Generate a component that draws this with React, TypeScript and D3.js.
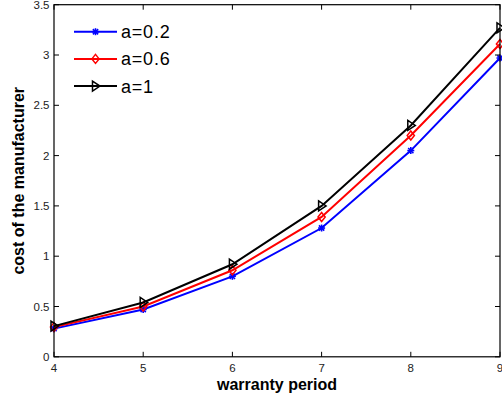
import React from "react";
import * as d3 from "d3";

const periods = [4, 5, 6, 7, 8, 9];
const seriesNames = ["a=0.2", "a=0.6", "a=1"];
const costA02 = [0.28, 0.47, 0.8, 1.28, 2.05, 2.97];
const costA06 = [0.295, 0.5, 0.86, 1.39, 2.2, 3.11];
const costA1 = [0.305, 0.54, 0.92, 1.5, 2.3, 3.27];
const xTicks = [4, 5, 6, 7, 8, 9];
const yTicks = [0, 0.5, 1, 1.5, 2, 2.5, 3, 3.5];
const colors = ["#0000ff", "#ff0000", "#000000"];
const markers = ["star", "diamond", "triangle"];

const W = 502, H = 402;
const L = 54, R = 500, T = 4.7, B = 356.8;

function Marker({ type, x, y, color }: { type: string; x: number; y: number; color: string }) {
  if (type === "star") {
    const r = 3.5;
    return (
      <g stroke={color} strokeWidth={1.6}>
        <line x1={x - r} y1={y} x2={x + r} y2={y} />
        <line x1={x} y1={y - r} x2={x} y2={y + r} />
        <line x1={x - r * 0.75} y1={y - r * 0.75} x2={x + r * 0.75} y2={y + r * 0.75} />
        <line x1={x - r * 0.75} y1={y + r * 0.75} x2={x + r * 0.75} y2={y - r * 0.75} />
      </g>
    );
  }
  if (type === "diamond") {
    const r = 4.5;
    return (
      <path
        d={`M${x},${y - r}L${x + r * 0.8},${y}L${x},${y + r}L${x - r * 0.8},${y}Z`}
        fill="none"
        stroke={color}
        strokeWidth={1.5}
      />
    );
  }
  const r = 5;
  return (
    <path
      d={`M${x - r * 0.6},${y - r}L${x + r * 0.9},${y}L${x - r * 0.6},${y + r}Z`}
      fill="none"
      stroke={color}
      strokeWidth={1.5}
    />
  );
}

export default function App() {
  const x = d3.scaleLinear().domain([4, 9]).range([L, R]);
  const y = d3.scaleLinear().domain([0, 3.5]).range([B, T]);
  const data = [costA02, costA06, costA1];
  const line = d3
    .line<number>()
    .x((_, i) => x(periods[i]))
    .y((d) => y(d));
  const font = "'Liberation Sans', Arial, Helvetica, sans-serif";
  const tl = 5;
  return (
    <svg
      width={W}
      height={H}
      style={{ position: "absolute", left: 0, top: 0, background: "#fff" }}
      fontFamily={font}
    >
      <rect x={0} y={0} width={W} height={H} fill="#fff" />
      {data.map((s, k) => (
        <g key={k}>
          <path d={line(s) || ""} fill="none" stroke={colors[k]} strokeWidth={2} />
          {s.map((v, i) => (
            <Marker key={i} type={markers[k]} x={x(periods[i])} y={y(v)} color={colors[k]} />
          ))}
        </g>
      ))}
      <rect x={L} y={T} width={R - L} height={B - T} fill="none" stroke="#000" strokeWidth={1.2} />
      {xTicks.map((t) => (
        <g key={"x" + t}>
          <line x1={x(t)} x2={x(t)} y1={B} y2={B - tl} stroke="#000" />
          <line x1={x(t)} x2={x(t)} y1={T} y2={T + tl} stroke="#000" />
          <text x={x(t)} y={372} fontSize={11.5} textAnchor="middle" fill="#222">
            {t}
          </text>
        </g>
      ))}
      {yTicks.map((t) => (
        <g key={"y" + t}>
          <line x1={L} x2={L + tl} y1={y(t)} y2={y(t)} stroke="#000" />
          <line x1={R} x2={R - tl} y1={y(t)} y2={y(t)} stroke="#000" />
          <text x={49.5} y={y(t) + 4} fontSize={11.5} textAnchor="end" fill="#222">
            {t}
          </text>
        </g>
      ))}
      <text x={(L + R) / 2} y={390} fontSize={16} fontWeight="bold" textAnchor="middle" fill="#000">
        warranty period
      </text>
      <text
        transform={`translate(23.5,${(T + B) / 2}) rotate(-90)`}
        fontSize={16}
        fontWeight="bold"
        textAnchor="middle"
        fill="#000"
      >
        cost of the manufacturer
      </text>
      {seriesNames.map((n, k) => {
        const ly = 31.7 + k * 27.2;
        return (
          <g key={n}>
            <line x1={74} x2={117} y1={ly} y2={ly} stroke={colors[k]} strokeWidth={2} />
            <Marker type={markers[k]} x={95.5} y={ly} color={colors[k]} />
            <text x={121} y={ly + 6.5} fontSize={18} letterSpacing={0.8} fill="#000">
              {n}
            </text>
          </g>
        );
      })}
    </svg>
  );
}
